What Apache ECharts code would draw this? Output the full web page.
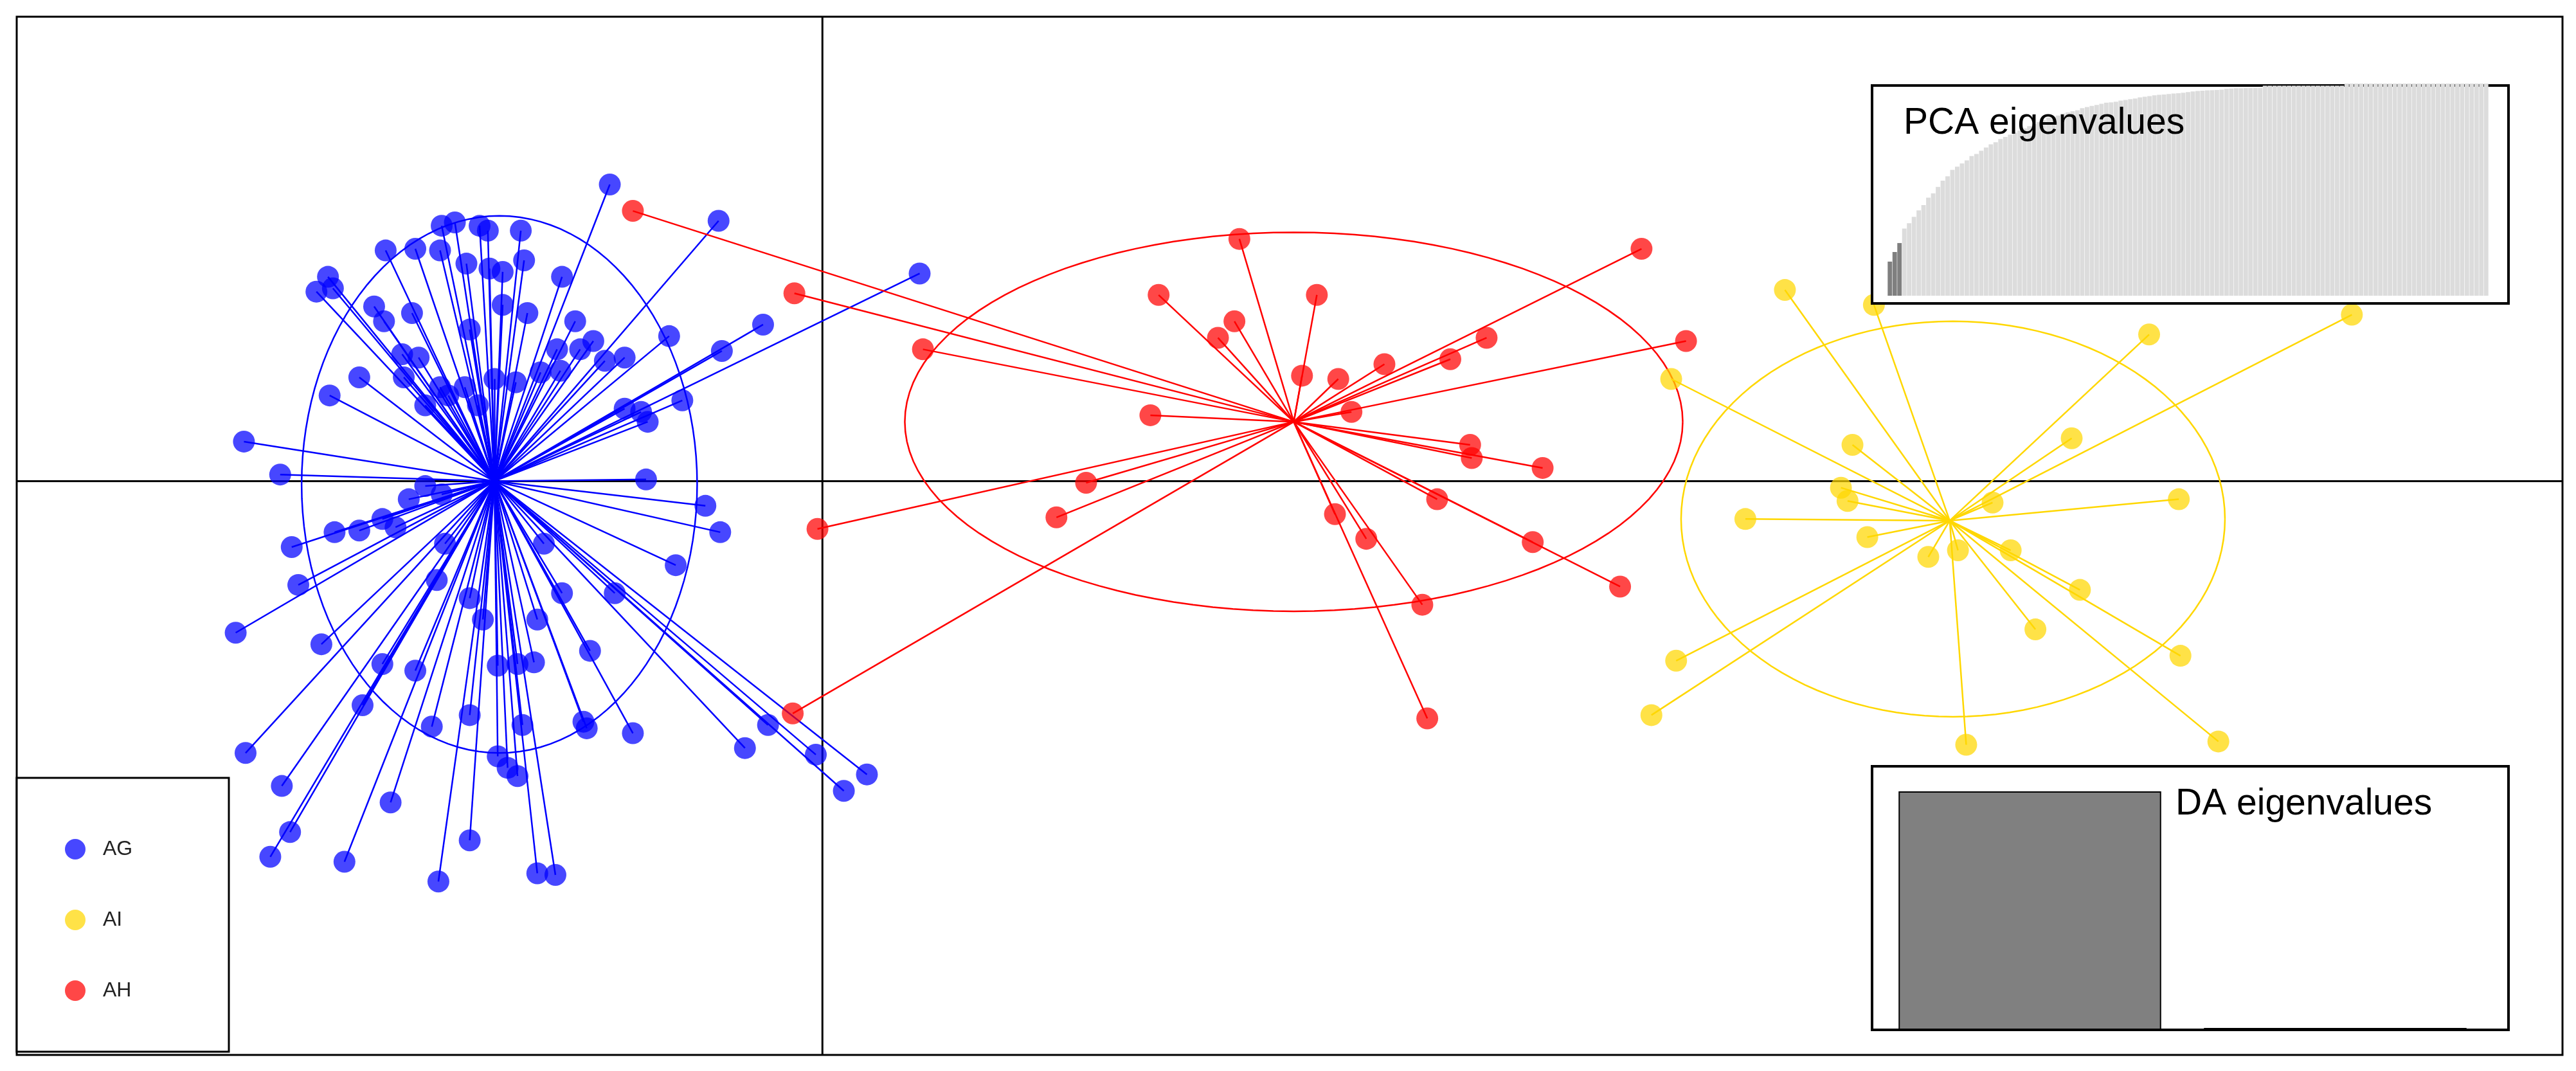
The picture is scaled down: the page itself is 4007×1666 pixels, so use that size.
<!DOCTYPE html>
<html>
<head>
<meta charset="utf-8">
<script src="https://cdn.jsdelivr.net/npm/echarts@6/dist/echarts.min.js"></script>
<style>html,body{margin:0;padding:0;background:#fff}#main{width:4007px;height:1666px}</style>
</head>
<body>
<div id="main"></div>
<script>
// scatter positions in plot units (x 0..1563, y 0..650, y down)
var groupNames = ['AG', 'AI', 'AH'];
var centroidAG = [300, 292];
var centroidAH = [785, 256];
var centroidAI = [1183, 316];
var pointsAG = [[370,112],[436,134],[276,135],[291,137],[268,137],[296,140],[316,140],[558,166],[463,197],[199,168],[192,177],[234,152],[252,151],[267,152],[283,160],[297,163],[305,165],[318,158],[341,168],[227,186],[233,195],[202,175],[250,190],[244,215],[200,240],[148,268],[170,288],[218,229],[254,217],[340,225],[360,207],[349,195],[352,212],[367,219],[379,217],[406,204],[438,213],[414,243],[393,256],[379,248],[389,250],[258,246],[245,229],[267,235],[272,240],[282,235],[290,246],[300,230],[313,232],[328,226],[338,212],[392,291],[428,307],[437,323],[410,343],[373,360],[341,360],[358,395],[384,445],[354,438],[302,404],[314,403],[324,402],[326,376],[293,376],[285,363],[265,352],[232,403],[252,407],[220,428],[195,391],[143,384],[181,355],[177,332],[203,323],[218,322],[232,315],[248,303],[258,295],[149,457],[171,477],[164,520],[176,505],[209,523],[237,487],[266,535],[285,510],[262,441],[302,459],[308,466],[314,471],[317,440],[337,531],[326,530],[285,434],[356,442],[466,440],[495,458],[512,480],[526,470],[452,454],[305,185],[285,200],[320,190],[268,300],[240,320],[330,330],[270,330]];
var pointsAH = [[384,128],[482,178],[560,212],[496,321],[481,433],[659,293],[641,314],[698,252],[703,179],[752,145],[749,195],[739,205],[799,179],[790,228],[820,250],[812,230],[840,221],[880,218],[902,205],[996,151],[1023,207],[892,270],[893,278],[936,284],[872,303],[810,312],[829,327],[930,329],[983,356],[863,367],[866,436]];
var pointsAI = [[1083,176],[1137,185],[1427,191],[1304,203],[1014,230],[1124,270],[1257,266],[1117,296],[1121,304],[1209,305],[1322,303],[1059,315],[1133,326],[1170,338],[1188,334],[1220,334],[1262,358],[1235,382],[1017,401],[1002,434],[1193,452],[1323,398],[1346,450]];
// ellipses: [cx, cy, rx, ry]
var ellipseAG = [303, 294, 120, 163];
var ellipseAH = [785, 256, 236, 115];
var ellipseAI = [1185, 315, 165, 120];
// inset bars
var pcaEigen = [160,205,247,315,340,370,400,425,460,480,510,540,560,590,605,620,635,655,665,680,695,710,720,735,745,755,765,775,785,795,805,815,825,835,840,845,855,860,865,870,880,885,890,895,900,905,907,910,915,918,922,925,930,933,936,940,942,944,946,948,950,952,955,958,960,962,963,964,965,966,970,972,973,973,974,974,975,975,985,985,985,985,985,985,985,985,985,985,985,985,985,985,985,985,985,995,995,995,995,995,995,995,995,995,995,995,995,995,995,995,995,995,995,995,995,995,995,995,995,995,995,995,995,995,995];
var pcaRetained = 3;
var daEigen = [100, 0.8];

var K = 4007 / 1563;
var cBlue = '#0000ff', cRed = '#ff0000', cYel = '#ffd700';

function spokes(c, pts) {
  return pts.map(function (p) { return { coords: [c, p] }; });
}
function ellipseSeries(e, color) {
  return {
    type: 'custom', xAxisIndex: 0, yAxisIndex: 0, silent: true, z: 2,
    data: [e],
    renderItem: function (params, api) {
      var pts = [];
      for (var i = 0; i <= 120; i++) {
        var a = i / 120 * Math.PI * 2;
        pts.push(api.coord([api.value(0) + api.value(2) * Math.cos(a), api.value(1) + api.value(3) * Math.sin(a)]));
      }
      return { type: 'polyline', shape: { points: pts }, style: { stroke: color, fill: null, lineWidth: 2.5 } };
    }
  };
}
function scatter(name, pts, color) {
  return { name: name, type: 'scatter', data: pts, symbolSize: 34, z: 5,
    itemStyle: { color: color, opacity: 0.72 } };
}
function spokeSeries(c, pts, color) {
  return { type: 'lines', coordinateSystem: 'cartesian2d', data: spokes(c, pts), z: 3, silent: true,
    lineStyle: { color: color, width: 2.5, opacity: 1 } };
}

var chart = echarts.init(document.getElementById('main'));
var option = {
  backgroundColor: '#fff',
  animation: false,
  grid: [
    { left: 0, top: 0, width: 4007, height: 1666 },
    { left: 2936, top: 130, width: 935, height: 330 },
    { left: 2920, top: 1231, width: 950, height: 371 }
  ],
  xAxis: [
    { type: 'value', min: 0, max: 1563, show: false, gridIndex: 0 },
    { type: 'category', gridIndex: 1, show: false, data: pcaEigen.map(function (v, i) { return i + 1; }) },
    { type: 'category', gridIndex: 2, show: false, data: ['1', '2'] }
  ],
  yAxis: [
    { type: 'value', min: 0, max: 650, inverse: true, show: false, gridIndex: 0 },
    { type: 'value', gridIndex: 1, min: 0, max: 995, show: false },
    { type: 'value', gridIndex: 2, min: 0, max: 100, show: false }
  ],
  legend: {
    orient: 'vertical', left: 96, top: 1300, itemGap: 78, itemWidth: 32, itemHeight: 32, z: 30,
    icon: 'circle', data: groupNames,
    textStyle: { fontFamily: 'Liberation Sans', fontSize: 32, color: '#222', padding: [0, 0, 0, 22] }
  },
  graphic: [
    { type: 'rect', shape: { x: 26, y: 26, width: 3960, height: 1615 }, style: { fill: null, stroke: '#000', lineWidth: 3 }, z: 1 },
    { type: 'line', shape: { x1: 499 * K, y1: 26, x2: 499 * K, y2: 1641 }, style: { stroke: '#000', lineWidth: 3 }, z: 1 },
    { type: 'line', shape: { x1: 26, y1: 292 * K, x2: 3986, y2: 292 * K }, style: { stroke: '#000', lineWidth: 3 }, z: 1 },
    { type: 'rect', shape: { x: 26, y: 1210, width: 330, height: 426 }, style: { fill: '#fff', stroke: '#000', lineWidth: 3 }, z: 10 },
    { type: 'rect', shape: { x: 2912, y: 133, width: 990, height: 339 }, style: { fill: '#fff', stroke: '#000', lineWidth: 4 }, z: 10 },
    { type: 'rect', shape: { x: 2912, y: 1192, width: 990, height: 410 }, style: { fill: '#fff', stroke: '#000', lineWidth: 4 }, z: 10 },
    { type: 'text', x: 2961, y: 164, z: 100, style: { text: 'PCA eigenvalues', font: '57px "Liberation Sans"', fill: '#000' } },
    { type: 'text', x: 3384, y: 1223, z: 100, style: { text: 'DA eigenvalues', font: '57px "Liberation Sans"', fill: '#000' } }
  ],
  series: [
    ellipseSeries(ellipseAG, cBlue),
    ellipseSeries(ellipseAH, cRed),
    ellipseSeries(ellipseAI, cYel),
    spokeSeries(centroidAG, pointsAG, cBlue),
    spokeSeries(centroidAH, pointsAH, cRed),
    spokeSeries(centroidAI, pointsAI, cYel),
    scatter('AG', pointsAG, '#0000ff'),
    scatter('AI', pointsAI, '#ffd700'),
    scatter('AH', pointsAH, '#ff0000'),
    { type: 'bar', xAxisIndex: 1, yAxisIndex: 1, barCategoryGap: '8%', z: 20, silent: true,
      data: pcaEigen.map(function (v, i) {
        return { value: v, itemStyle: { color: i < pcaRetained ? '#7f7f7f' : '#dcdcdc' } };
      }) },
    { type: 'bar', xAxisIndex: 2, yAxisIndex: 2, barCategoryGap: '14%', z: 20, silent: true,
      itemStyle: { color: '#808080', borderColor: '#000', borderWidth: 2 }, data: daEigen }
  ]
};
chart.setOption(option);
</script>
</body>
</html>
